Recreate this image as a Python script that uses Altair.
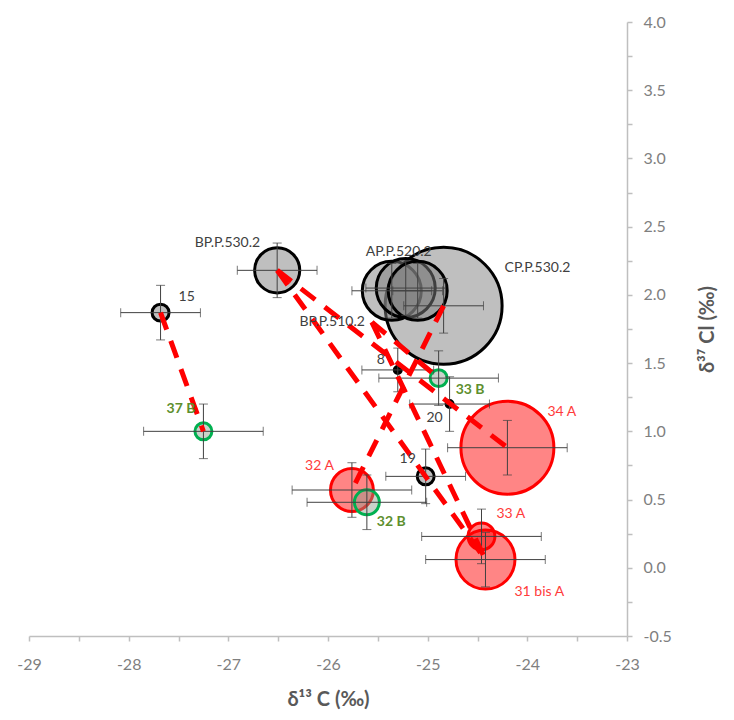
import altair as alt
import pandas as pd

FONT = "Lato, 'DejaVu Sans', sans-serif"

# ---- data ----
names = ["CP.P.530.2", "AP.P.520.2 (1)", "AP.P.520.2", "AP.P.520.2 (3)", "BP.P.530.2",
         "15", "37 B", "34 A", "31 bis A", "33 A", "32 A", "32 B", "19", "33 B",
         "8", "20", "BP.P.510.2"]
d13C = [-24.84, -25.36, -25.22, -25.10, -26.51,
        -27.68, -27.25, -24.20, -24.42, -24.46, -25.76, -25.61, -25.02, -24.89,
        -25.30, -24.78, -25.56]
d37Cl = [1.92, 2.03, 2.05, 2.03, 2.18,
         1.87, 1.00, 0.88, 0.06, 0.23, 0.57, 0.48, 0.67, 1.39,
         1.45, 1.20, 1.80]
xerr = [0.40, 0.40, 0.40, 0.25, 0.40,
        0.40, 0.60, 0.60, 0.60, 0.60, 0.60, 0.60, 0.40, 0.60,
        0.36, 0.40, 0.0]
yerr = [0.20, 0.20, 0.20, 0.20, 0.20,
        0.20, 0.20, 0.20, 0.20, 0.20, 0.20, 0.20, 0.20, 0.20,
        0.16, 0.20, 0.0]
bubble = [34.2, 8.7, 8.7, 8.7, 5.1,
          0.72, 0.72, 21.6, 8.7, 1.8, 4.6, 1.56, 0.72, 0.72,
          0.12, 0.12, 0.0]
kind = ["src", "src", "src", "src", "src",
        "src", "B", "A", "A", "A", "A", "B", "src", "B",
        "dot", "dot", "none"]

line_from = ["15", "BP.P.530.2", "BP.P.530.2", "BP.P.510.2", "BP.P.510.2", "CP.P.530.2"]
line_to = ["37 B", "34 A", "31 bis A", "33 B", "31 bis A", "32 A"]

# labels: point, text, dx, dy, align, kind
lbl_point = ["15", "37 B", "BP.P.530.2", "AP.P.520.2", "CP.P.530.2", "BP.P.510.2", "8",
             "33 B", "20", "34 A", "19", "32 A", "32 B", "33 A", "31 bis A"]
lbl_text = ["15", "37 B", "BP.P.530.2", "AP.P.520.2", "CP.P.530.2", "BP.P.510.2", "8",
            "33 B", "20", "34 A", "19", "32 A", "32 B", "33 A", "31 bis A"]
lbl_dx = [18, -8, -17, -7, 61, -7, -17, 17, -15, 40, -18, -18, 10, 15, 29]
lbl_dy = [-16, -22, -27, -36, -38, 0, -10, 12, 14, -36, -17, -24, 20, -22, 32]
lbl_align = ["left", "right", "right", "center", "left", "right", "center",
             "left", "center", "left", "center", "right", "left", "left", "left"]
lbl_kind = ["src", "B", "src", "src", "src", "src", "src",
            "B", "src", "A", "src", "A", "B", "A", "A"]

df = pd.DataFrame(dict(name=names, x=d13C, y=d37Cl, xerr=xerr, yerr=yerr,
                       bubble=bubble, kind=kind))

pos = {n: (a, b) for n, a, b in zip(names, d13C, d37Cl)}
lines_rows = []
for i, (f, t) in enumerate(zip(line_from, line_to)):
    lines_rows.append(dict(pair=i, ord=0, x=pos[f][0], y=pos[f][1]))
    lines_rows.append(dict(pair=i, ord=1, x=pos[t][0], y=pos[t][1]))
lines_df = pd.DataFrame(lines_rows)

# ---- scales & axes ----
X_SCALE = alt.Scale(domain=[-29, -23], nice=False, zero=False)
Y_SCALE = alt.Scale(domain=[-0.5, 4.0], nice=False, zero=False)
SIZE_SCALE = alt.Scale(domain=[0, 36], range=[0, 14400], zero=True)

xaxis = alt.Axis(
    values=[-29 + 0.5 * i for i in range(13)],
    labelExpr="datum.value % 1 == 0 ? '' + datum.value : ''",
    title="δ¹³ C (‰)", grid=False, domainColor="#BFBFBF", domainWidth=1.5,
    tickColor="#BFBFBF", tickWidth=1.5, tickSize=5, labelColor="#7F7F7F",
    labelFontSize=16, labelPadding=15, labelFont=FONT, labelOverlap=False,
    labelFlush=False, titleFont=FONT, titleFontSize=20, titleFontWeight="bold",
    titleColor="#595959", titlePadding=17)
yaxis = alt.Axis(
    orient="right",
    values=[-0.5 + 0.25 * i for i in range(19)],
    labelExpr="datum.value % 0.5 == 0 ? replace(format(datum.value, '.1f'), '−', '-') : ''",
    title="δ³⁷ Cl (‰)", grid=False, domainColor="#BFBFBF", domainWidth=1.5,
    tickColor="#BFBFBF", tickWidth=1.5, tickSize=5, labelColor="#7F7F7F",
    labelFontSize=16, labelPadding=11, labelFont=FONT, labelOverlap=False,
    labelFlush=False, titleFont=FONT, titleFontSize=20, titleFontWeight="bold",
    titleColor="#595959", titlePadding=46, titleAngle=270)


def X(field):
    return alt.X(f"{field}:Q", scale=X_SCALE, axis=xaxis)


def Y(field):
    return alt.Y(f"{field}:Q", scale=Y_SCALE, axis=yaxis)


base = alt.Chart(df)

styles = {
    "src": dict(fill="#808080", fillOpacity=0.5, stroke="#000000"),
    "A": dict(fill="#FF0000", fillOpacity=0.48, stroke="#FF0000"),
    "B": dict(fill="#8C9C8C", fillOpacity=0.45, stroke="#00B050"),
    "dot": dict(fill="#000000", fillOpacity=1.0, stroke="#000000"),
}
circle_layers = []
for k, st in styles.items():
    circle_layers.append(
        base.transform_filter(alt.datum.kind == k).mark_circle(
            strokeWidth=3, opacity=1, **st
        ).encode(
            x=X("x"), y=Y("y"),
            size=alt.Size("bubble:Q", scale=SIZE_SCALE, legend=None),
        )
    )

err = base.transform_filter("datum.xerr > 0").transform_calculate(
    xlo="datum.x - datum.xerr", xhi="datum.x + datum.xerr",
    ylo="datum.y - datum.yerr", yhi="datum.y + datum.yerr")

ERR_COLOR = "#404040"
hbar = err.mark_rule(color=ERR_COLOR, strokeWidth=1).encode(x=X("xlo"), x2="xhi", y=Y("y"))
vbar = err.mark_rule(color=ERR_COLOR, strokeWidth=1).encode(x=X("x"), y=Y("ylo"), y2="yhi")
cap_l = err.mark_tick(color=ERR_COLOR, orient="vertical", size=9, thickness=1).encode(x=X("xlo"), y=Y("y"))
cap_r = err.mark_tick(color=ERR_COLOR, orient="vertical", size=9, thickness=1).encode(x=X("xhi"), y=Y("y"))
cap_b = err.mark_tick(color=ERR_COLOR, orient="horizontal", size=9, thickness=1).encode(x=X("x"), y=Y("ylo"))
cap_t = err.mark_tick(color=ERR_COLOR, orient="horizontal", size=9, thickness=1).encode(x=X("x"), y=Y("yhi"))

dashed = alt.Chart(lines_df).mark_line(color="#FF0000", strokeWidth=5,
                                       strokeDash=[18, 12]).encode(
    x=X("x"), y=Y("y"), detail="pair:N", order="ord:Q")

text_colors = {"src": "#404040", "A": "#FF3B3B", "B": "#5E8F2E"}
labels = []
for p, t, dx, dy, al, k in zip(lbl_point, lbl_text, lbl_dx, lbl_dy, lbl_align, lbl_kind):
    labels.append(
        base.transform_filter(alt.datum.name == p).mark_text(
            dx=dx, dy=dy, align=al, baseline="middle", font=FONT, fontSize=14,
            color=text_colors[k], fontWeight="bold" if k == "B" else "normal"
        ).encode(x=X("x"), y=Y("y"), text=alt.value(t))
    )

chart = alt.layer(*circle_layers, hbar, vbar, cap_l, cap_r, cap_b, cap_t, dashed, *labels).properties(
    width=598, height=614,
    autosize=alt.AutoSizeParams(type="none"),
    padding={"left": 21, "top": 14, "right": 95, "bottom": 76},
).configure(background="white").configure_view(stroke=None)

chart.save("out.html", embed_options={"renderer": "svg", "actions": False})
